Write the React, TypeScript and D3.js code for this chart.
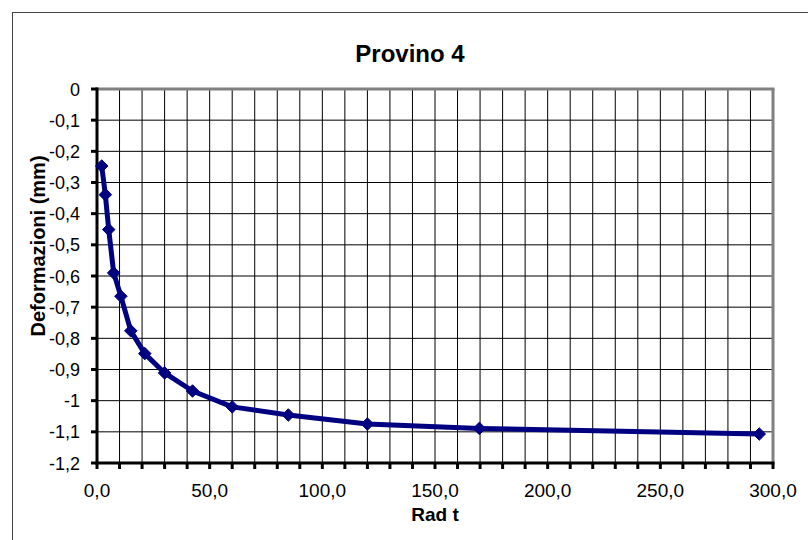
import React from "react";
import * as d3 from "d3";

const xValues = [2.1, 3.7, 5.2, 7.4, 10.6, 15, 21.2, 30, 42.4, 60, 84.9, 120, 169.7, 293.9];
const yValues = [-0.247, -0.339, -0.451, -0.59, -0.665, -0.776, -0.849, -0.911, -0.969, -1.02, -1.046, -1.075, -1.089, -1.107];
const xTickLabels = [0, 50, 100, 150, 200, 250, 300];
const yTickValues = [0, -0.1, -0.2, -0.3, -0.4, -0.5, -0.6, -0.7, -0.8, -0.9, -1, -1.1, -1.2];
const title = "Provino 4";
const xTitle = "Rad t";
const yTitle = "Deformazioni (mm)";

const W = 808;
const H = 540;
const FONT = "'Liberation Sans', Arial, sans-serif";

export default function App() {
  const x = d3.scaleLinear().domain([0, 300]).range([97, 773]);
  const y = d3.scaleLinear().domain([0, -1.2]).range([89, 463]);
  const data = xValues.map((v, i) => [v, yValues[i]] as [number, number]);
  const line = d3.line<[number, number]>().x(d => x(d[0])).y(d => y(d[1]));
  const minorX = d3.range(10, 300, 10);
  const allX = d3.range(0, 301, 10);
  const fmtX = (v: number) => v.toFixed(1).replace(".", ",");
  const fmtY = (v: number) => (Math.abs(v) < 1e-9 ? "0" : String(+v.toFixed(1)).replace(".", ","));
  const diamond = d3.symbol().type(d3.symbolDiamond2).size(100)();

  return (
    <svg width={W} height={H} style={{ position: "absolute", left: 0, top: 0, background: "#fff" }}>
      <rect x={0} y={0} width={W} height={H} fill="#fff" />
      <rect x={12.5} y={12.5} width={800} height={540} fill="none" stroke="#444" strokeWidth={1} />
      <text x={410} y={62} textAnchor="middle" fontFamily={FONT} fontWeight="bold" fontSize={24} fill="#000">{title}</text>
      {/* grid */}
      {minorX.map(v => (
        <line key={"gx" + v} x1={x(v)} x2={x(v)} y1={y(0)} y2={y(-1.2)} stroke="#000" strokeWidth={1} />
      ))}
      {yTickValues.slice(1, -1).map(v => (
        <line key={"gy" + v} x1={x(0)} x2={x(300)} y1={y(v)} y2={y(v)} stroke="#000" strokeWidth={1} />
      ))}
      {/* plot frame top/right gray */}
      <line x1={x(0)} x2={x(300) + 1.5} y1={y(0)} y2={y(0)} stroke="#808080" strokeWidth={3} />
      <line x1={x(300)} x2={x(300)} y1={y(0)} y2={y(-1.2)} stroke="#808080" strokeWidth={3} />
      {/* axes */}
      <line x1={x(0)} x2={x(0)} y1={y(0) - 1.5} y2={y(-1.2) + 1.5} stroke="#000" strokeWidth={3} />
      <line x1={x(0) - 1.5} x2={x(300) + 1.5} y1={y(-1.2)} y2={y(-1.2)} stroke="#000" strokeWidth={3} />
      {yTickValues.map(v => (
        <line key={"ty" + v} x1={x(0) - 6} x2={x(0)} y1={y(v)} y2={y(v)} stroke="#000" strokeWidth={3} />
      ))}
      {allX.map(v => (
        <line key={"tx" + v} x1={x(v)} x2={x(v)} y1={y(-1.2)} y2={y(-1.2) + 6} stroke="#000" strokeWidth={3} />
      ))}
      {yTickValues.map(v => (
        <text key={"ly" + v} x={80} y={y(v) + 6.5} textAnchor="end" fontFamily={FONT} fontSize={18} fill="#000">{fmtY(v)}</text>
      ))}
      {xTickLabels.map(v => (
        <text key={"lx" + v} x={x(v)} y={497} textAnchor="middle" fontFamily={FONT} fontSize={19} fill="#000">{fmtX(v)}</text>
      ))}
      <text x={x(150)} y={521} textAnchor="middle" fontFamily={FONT} fontWeight="bold" fontSize={19} fill="#000">{xTitle}</text>
      <text transform={`translate(45,${246}) rotate(-90)`} textAnchor="middle" fontFamily={FONT} fontWeight="bold" fontSize={20} fill="#000">{yTitle}</text>
      {/* series */}
      <path d={line(data) || ""} fill="none" stroke="#000080" strokeWidth={5} strokeLinejoin="round" />
      {data.map((d, i) => (
        <path key={"m" + i} d={diamond || ""} transform={`translate(${x(d[0])},${y(d[1])})`} fill="#000080" stroke="#000080" strokeWidth={1} />
      ))}
    </svg>
  );
}
